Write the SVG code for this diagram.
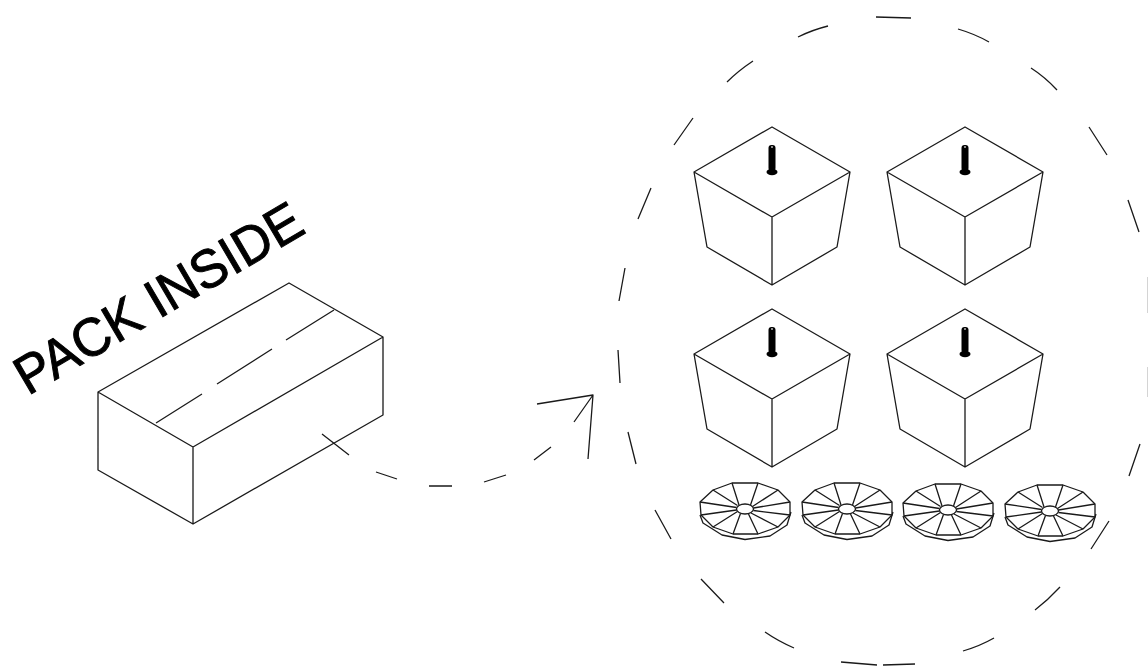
<svg xmlns="http://www.w3.org/2000/svg" xmlns:xlink="http://www.w3.org/1999/xlink" width="1148" height="666" viewBox="0 0 1148 666">
<style>
.l{fill:none;stroke:#1a1a1a;stroke-width:1.3;stroke-linejoin:round;stroke-linecap:butt}
.f{fill:none;stroke:#d4d4d4;stroke-width:1}
.t{font-family:"Liberation Sans",Arial,sans-serif;font-size:54px;fill:#000;stroke:#000;stroke-width:1}
</style>
<defs>
<g id="leg">
<path class="l" d="M0 -45L78 0L0 45L-78 0ZM0 45V113M-78 0L-65 75L0 113L65 75L78 0"/>
<rect x="-3.500" y="-27" width="7" height="26" rx="3" fill="#000"/>
<ellipse cx="0" cy="0" rx="5.500" ry="3.200" fill="#000"/>
<rect x="-1" y="-26" width="2" height="2" fill="#888"/>
</g>
<g id="disc">
<path class="l" d="M-13 -26L13 -26L33 -19L45 -7L45 6L33 18L13 25L-12 25L-32 18L-44 6L-45 -7L-32 -19Z"/>
<path class="l" d="M-45 6L-42 14L-23 26L0 30.500L25 27L42 16L46 3"/>
<ellipse class="l" cx="0" cy="0" rx="8.500" ry="5"/>
<path class="l" d="M-13 -26L-6 -4M13 -26L5.500 -4M33 -19L7.500 -2.500M45 -7L8.500 -1M45 6L8.500 1.500M33 18L6 4M13 25L3.500 5M-12 25L-4.500 4.500M-32 18L-7.500 2.500M-44 6L-8.500 1M-45 -7L-8.500 -1.500M-32 -19L-7.500 -3.500"/>
</g>
</defs>
<rect width="1148" height="666" fill="#fff"/>
<text class="t" transform="translate(28,396) rotate(-30.400)" textLength="324" lengthAdjust="spacingAndGlyphs">PACK INSIDE</text>
<g id="box">
<path class="l" d="M98 392L289 283L383 337L193 447ZM98 392V470L193 524V447M193 524L383 415V337"/>
<path class="l" d="M156 423L202 394M217 384L272 349M286 340L334 310"/>
</g>
<g id="leg1"><use href="#leg" x="772" y="172"/></g>
<g id="leg2"><use href="#leg" x="965" y="172"/></g>
<g id="leg3"><use href="#leg" x="772" y="354"/></g>
<g id="leg4"><use href="#leg" x="965" y="354"/></g>
<g id="disc1"><use href="#disc" x="745" y="509"/></g>
<g id="disc2"><use href="#disc" x="847" y="509"/></g>
<g id="disc3"><use href="#disc" x="948" y="510"/></g>
<g id="disc4"><use href="#disc" x="1050" y="511"/></g>
<g id="connectors">
<path class="l" d="M322 434L349 455M376 472L397 479M429 486H452M484 482L506 475M534 460L551 447M574 422L593 395M537 404L593 395L588 459"/>
</g>
<g id="circle">
<path class="l" d="M798 37Q812 30 828 26M727 82Q738 71 753 61M674 145L693 118M638 219L651 188M619 301L625 268M618 350L620 383M628 432L636 464M655 510L671 539M701 579L724 603M765 632Q778 641 794 648M841 662L877 665M883 665L915 664M963 651Q980 646 994 638M1035 610Q1048 600 1060 587M1091 549L1109 521M1129 476L1140 444M876 17L911 18M958 29Q975 34 989 42M1031 68Q1045 77 1057 90M1089 127L1107 155M1128 200L1139 232"/>
<path class="f" d="M1147.500 277V313M1147.500 367V397"/>
</g>
</svg>
